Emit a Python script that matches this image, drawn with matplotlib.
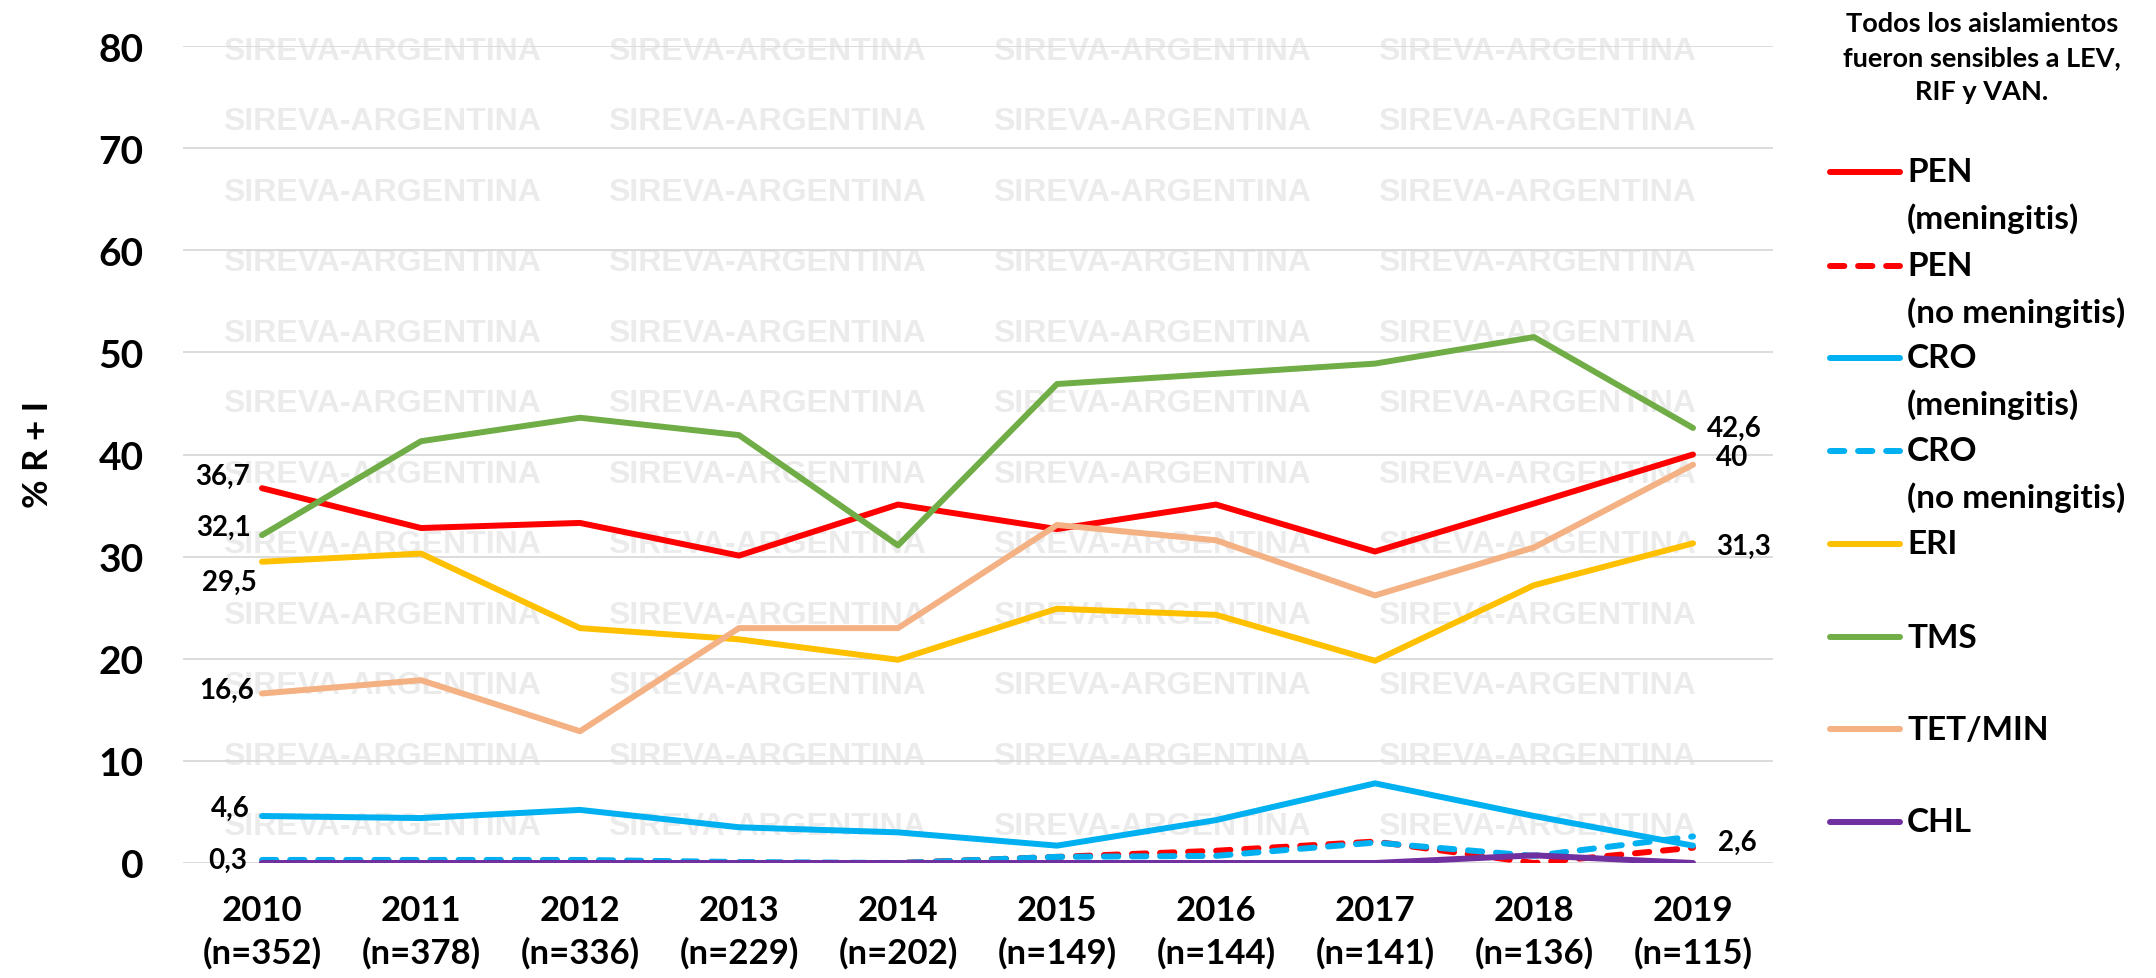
import numpy as np
import matplotlib
matplotlib.use("Agg")
import matplotlib.pyplot as plt
from matplotlib.lines import Line2D

plt.rcParams['font.family'] = ['Lato', 'DejaVu Sans']
plt.rcParams['font.weight'] = 'bold'

# ---------------- data ----------------
years = ["2010", "2011", "2012", "2013", "2014", "2015", "2016", "2017", "2018", "2019"]
n_counts = [352, 378, 336, 229, 202, 149, 144, 141, 136, 115]

pen_men = [36.7, 32.8, 33.3, 30.1, 35.1, 32.7, 35.1, 30.5, 35.2, 40.0]
pen_nomen = [0.0, 0.0, 0.0, 0.0, 0.0, 0.6, 1.2, 2.1, 0.0, 1.5]
cro_men = [4.6, 4.4, 5.2, 3.5, 3.0, 1.7, 4.2, 7.8, 4.6, 1.7]
cro_nomen = [0.3, 0.3, 0.3, 0.1, 0.0, 0.6, 0.7, 2.0, 0.7, 2.6]
eri = [29.5, 30.3, 23.0, 21.9, 19.9, 24.9, 24.3, 19.8, 27.2, 31.3]
tms = [32.1, 41.3, 43.6, 41.9, 31.1, 46.9, 47.9, 48.9, 51.5, 42.6]
tet_min = [16.6, 17.9, 12.9, 23.0, 23.0, 33.1, 31.6, 26.2, 30.9, 39.0]
chl = [0.0, 0.0, 0.0, 0.0, 0.0, 0.0, 0.0, 0.0, 0.75, 0.0]

series_names = ["PEN\n(meningitis)", "PEN\n(no meningitis)", "CRO\n(meningitis)",
                "CRO\n(no meningitis)", "ERI", "TMS", "TET/MIN", "CHL"]
series_values = [pen_men, pen_nomen, cro_men, cro_nomen, eri, tms, tet_min, chl]
series_colors = ["#FF0000", "#FF0000", "#00B0F0", "#00B0F0", "#FFC000", "#70AD47", "#F4B183", "#7030A0"]
series_dashed = [False, True, False, True, False, False, False, False]

# end-point labels: (series index, point index, text, offset px, ha)
point_labels = [
    (0, 0, "36,7", (-12, 12), "right"),
    (5, 0, "32,1", (-11, 8), "right"),
    (4, 0, "29,5", (-5, -20), "right"),
    (6, 0, "16,6", (-8, 4), "right"),
    (2, 0, "4,6", (-12, 8), "right"),
    (3, 0, "0,3", (-15, 0), "right"),
    (5, 9, "42,6", (14, 0), "left"),
    (0, 9, "40", (23, -2), "left"),
    (4, 9, "31,3", (23, -3), "left"),
    (3, 9, "2,6", (25, -5), "left"),
]

W, H = 2156, 979
fig = plt.figure(figsize=(W / 100, H / 100), dpi=100)
ax = fig.add_axes([182.5 / W, 1 - 864 / H, (1772.5 - 182.5) / W, (864 - 47) / H])
ax.set_zorder(1)
ax.patch.set_alpha(0)

x = np.arange(len(years))
ax.set_xlim(-0.5, len(years) - 0.5)
ax.set_ylim(0, 80)
ax.set_yticks(np.arange(0, 81, 10))
ax.set_yticklabels([str(v) for v in range(0, 81, 10)], fontsize=28, fontweight='bold')
ax.set_xticks(x)
ax.set_xticklabels([f"{y}\n(n={n})" for y, n in zip(years, n_counts)],
                   fontsize=25, fontweight='bold', linespacing=1.4)
ax.tick_params(axis='y', length=0, pad=28)
ax.tick_params(axis='x', length=0, pad=22)
for s in ax.spines.values():
    s.set_visible(False)
ax.set_axisbelow(True)
ax.yaxis.grid(True, color="#D9D9D9", linewidth=1.3, zorder=0.5)

# watermark (behind the axes content)
wm_x = [223, 608, 993, 1378]
wm_rows = np.linspace(52, 827, 12)
for yy in wm_rows:
    for xx in wm_x:
        fig.text(xx / W, 1 - yy / H, "SIREVA-ARGENTINA", fontsize=23,
                 family=['Liberation Sans', 'DejaVu Sans'], fontweight='bold',
                 color="#EBEBEB", ha='left', va='center', zorder=0.1)

lw = 4.3
for i, (name, vals, col, dashed) in enumerate(zip(series_names, series_values, series_colors, series_dashed)):
    kw = dict(color=col, linewidth=lw, solid_capstyle='round', dash_capstyle='round',
              solid_joinstyle='round', zorder=3 + i)
    if dashed:
        ax.plot(x, vals, dashes=(2.4, 2.3), **kw)
    else:
        ax.plot(x, vals, **kw)

for si, pi, txt, off, ha in point_labels:
    ax.annotate(txt, (x[pi], series_values[si][pi]), xytext=off, textcoords='offset pixels',
                ha=ha, va='center', fontsize=20, fontweight='bold', color='black', zorder=20)

# y-axis label
fig.text(38 / W, 1 - 454 / H, "% R + I", rotation=90, ha='center', va='center',
         fontsize=25, fontweight='bold')

# legend title
fig.text(1982 / W, 1 - 58 / H, "Todos los aislamientos\nfueron sensibles a LEV,\nRIF y VAN.",
         ha='center', va='center', fontsize=19.5, fontweight='bold', linespacing=1.5)

# manual legend
leg_y = [173, 267, 359, 452, 545, 638, 730, 823]
for name, col, dashed, yy in zip(series_names, series_colors, series_dashed, leg_y):
    yf = 1 - yy / H
    ln = Line2D([1830 / W, 1900 / W], [yf, yf], transform=fig.transFigure, color=col,
                linewidth=lw, solid_capstyle='round', dash_capstyle='round')
    if dashed:
        ln.set_dashes((2.4, 2.3))
    fig.add_artist(ln)
    lines = name.split("\n")
    for k, t in enumerate(lines):
        fig.text(1907 / W, 1 - (yy + k * 46) / H, t, ha='left', va='center',
                 fontsize=24, fontweight='bold')

fig.savefig("out.png", dpi=100)
